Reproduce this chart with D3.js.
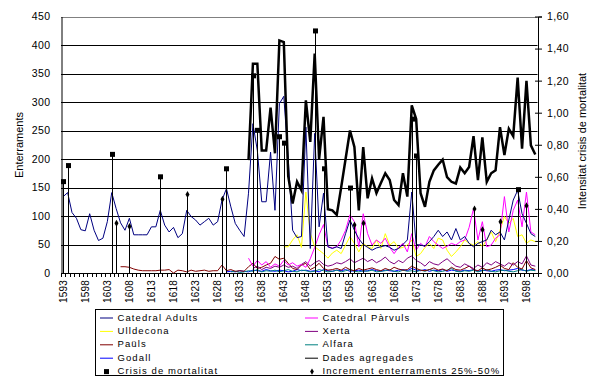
<!DOCTYPE html>
<html>
<head>
<meta charset="utf-8">
<script src="https://cdn.jsdelivr.net/npm/d3@7"></script>
<style>
  body { margin: 0; background: #fff; }
  svg { display: block; font-family: "Liberation Sans", Arial, sans-serif; }
</style>
</head>
<body>
<svg id="chart" width="603" height="384"></svg>
<script>
//////////////////
// Data         //
//////////////////
const firstYear = 1593, lastYear = 1700;
const years = d3.range(firstYear, lastYear + 1);
const labelYears = d3.range(1593, 1701, 5);

const leftTicks = [0, 50, 100, 150, 200, 250, 300, 350, 400, 450];
const rightTicks = [0, 0.2, 0.4, 0.6, 0.8, 1.0, 1.2, 1.4, 1.6];

const catedralAdults = [
  134, 141, 106, 96, 76, 74, 104, 75, 57, 61,
  90, 141, 113, 88, 75, 96, 67, 67, 67, 67,
  81, 81, 110, 84, 72, 80, 62, 69, 110, 99,
  93, 84, 90, 96, 84, 90, 128, 148, 116, 87,
  75, 64, 140, 262, 215, 125, 125, 212, 110, 297,
  310, 200, 75, 62, 64, 256, 43, 245, 81, 140,
  46, 43, 46, 43, 69, 93, 75, 60, 50, 45,
  40, 44, 46, 48, 45, 40, 43, 50, 58, 142,
  50, 49, 47, 55, 64, 75, 64, 72, 58, 78,
  58, 64, 52, 46, 52, 55, 58, 75, 67, 72,
  58, 93, 128, 145, 104, 87, 69, 64
];
const catedralParvuls = [
  null, null, null, null, null, null, null, null, null, null,
  null, null, null, null, null, null, null, null, null, null,
  null, null, null, null, null, null, null, null, null, null,
  null, null, null, null, null, null, null, null, null, null,
  null, null, 26, 12, 22, 14, 20, 10, 16, 12,
  22, 14, 18, 12, 15, 10, 25, 45, 67, 85,
  46, 44, 46, 58, 75, 102, 90, 46, 104, 69,
  49, 58, 52, 61, 45, 34, 45, 52, 37, 69,
  40, 52, 46, 64, 55, 49, 43, 47, 52, 49,
  55, 58, 80, 113, 58, 90, 46, 49, 61, 67,
  134, 72, 110, 128, 81, 142, 72, 67
];
const ulldecona = [
  null, null, null, null, null, null, null, null, null, null,
  null, null, null, null, null, null, null, null, null, null,
  null, null, null, null, null, null, null, null, null, null,
  null, null, null, null, null, null, null, null, null, null,
  null, null, null, null, null, null, null, null, null, null,
  46, 46, 58, 67, 45, 142, 70, 46, 40, 34,
  26, 35, 40, 34, 49, 64, 52, 37, 52, 46,
  43, 58, 43, 69, 49, 55, 43, 45, 49, 58,
  29, 34, 45, 52, 43, 61, 58, 40, 29, 37,
  46, 58, 52, 49, 55, 46, 58, 72, 55, 75,
  99, 87, 96, 64, 67, 52, 58, 55
];
const xerta = [
  null, null, null, null, null, null, null, null, null, null,
  null, null, null, null, null, null, null, null, null, null,
  null, null, null, null, null, null, null, null, null, null,
  null, null, null, null, null, null, null, null, null, null,
  null, null, null, 8, 12, 6, 10, 8, 12, 10,
  14, 10, 12, 8, 15, 20, 12, 18, 22, 15,
  12, 14, 18, 16, 20, 25, 18, 22, 26, 20,
  24, 18, 22, 28, 20, 16, 22, 18, 26, 30,
  22, 18, 12, 20, 16, 14, 20, 25, 18, 12,
  10, 16, 12, 8, 14, 10, 18, 14, 20, 16,
  12, 18, 14, 20, 16, 30, 14, 12
];
const pauls = [
  null, null, null, null, null, null, null, null, null, null,
  null, null, null, 11, 11, 10, 7, 5, 4, 4,
  4, 4, 5, 5, 6, 0, 5, 4, 2, 5,
  3, 4, 5, 3, 4, 4, 14, 4, 6, 3,
  4, 3, 11, 17, 8, 10, 14, 17, 29, 24,
  26, 17, 8, 6, 14, 17, 6, 10, 17, 8,
  5, 6, 8, 5, 10, 6, 4, 8, 5, 7,
  9, 6, 4, 8, 5, 10, 7, 5, 6, 12,
  8, 5, 4, 6, 9, 5, 7, 4, 10, 6,
  5, 8, 12, 6, 4, 9, 5, 7, 10, 14,
  8, 6, 18, 10, 7, 22, 9, 6
];
const alfara = [
  null, null, null, null, null, null, null, null, null, null,
  null, null, null, null, null, null, null, null, null, null,
  null, null, null, null, null, null, null, null, null, null,
  null, null, null, null, null, null, null, null, 2, 3,
  1, 2, 4, 3, 6, 2, 4, 3, 5, 2,
  4, 6, 3, 2, 5, 4, 2, 3, 6, 4,
  2, 3, 5, 2, 4, 6, 3, 2, 4, 3,
  5, 2, 3, 4, 6, 3, 2, 5, 3, 4,
  2, 5, 3, 6, 4, 2, 3, 5, 8, 3,
  2, 4, 3, 5, 2, 4, 6, 3, 2, 4,
  5, 3, 2, 4, 6, 3, 5, 4
];
const godall = [
  null, null, null, null, null, null, null, null, null, null,
  null, null, null, null, null, null, null, null, null, null,
  null, null, null, null, null, null, null, null, null, null,
  null, null, null, null, null, null, null, 2, 3, 2,
  4, 3, 2, 5, 4, 3, 6, 4, 3, 5,
  4, 2, 3, 6, 4, 5, 3, 4, 2, 6,
  4, 3, 5, 4, 6, 3, 4, 5, 3, 4,
  6, 4, 3, 5, 4, 3, 5, 6, 4, 8,
  5, 4, 6, 3, 5, 4, 6, 3, 5, 4,
  3, 5, 4, 6, 3, 5, 4, 3, 5, 6,
  4, 5, 6, 8, 5, 4, 6, 5
];
const dadesAgregades = [
  null, null, null, null, null, null, null, null, null, null,
  null, null, null, null, null, null, null, null, null, null,
  null, null, null, null, null, null, null, null, null, null,
  null, null, null, null, null, null, null, null, null, null,
  null, null, 198, 367, 367, 215, 215, 290, 210, 408,
  405, 170, 122, 160, 145, 303, 230, 385, 200, 274,
  112, 110, 102, 150, 200, 250, 221, 110, 221, 131,
  166, 140, 158, 175, 163, 128, 119, 175, 134, 294,
  270, 140, 116, 160, 180, 190, 199, 168, 160, 157,
  185, 175, 186, 240, 163, 238, 160, 175, 180, 256,
  207, 253, 240, 343, 218, 337, 224, 208
];

// crisis markers, read on the right axis
const crisisYears = [1593, 1594, 1604, 1615, 1630, 1636, 1637, 1642, 1643, 1650, 1652, 1658, 1672, 1673, 1696];
const crisisValues = [0.57, 0.67, 0.74, 0.60, 0.65, 1.23, 0.89, 0.85, 0.81, 1.51, 0.65, 0.53, 0.96, 0.73, 0.52];
const incrementYears = [1605, 1608, 1621, 1629, 1659, 1661, 1686, 1688, 1692, 1698];
const incrementValues = [0.31, 0.29, 0.49, 0.46, 0.30, 0.31, 0.40, 0.27, 0.32, 0.42];

const seriesNames = ["Catedral Adults", "Catedral Pàrvuls", "Ulldecona", "Xerta", "Paüls", "Alfara", "Godall", "Dades agregades"];
const seriesData = [catedralAdults, catedralParvuls, ulldecona, xerta, pauls, alfara, godall, dadesAgregades];
const seriesColors = ["#000080", "#ff00ff", "#ffff00", "#800080", "#800000", "#008080", "#0000ff", "#000000"];

//////////////////////////
// Chart specifications //
//////////////////////////
const plot = { left: 61, right: 537.5, top: 16.5, bottom: 273 };

const svg = d3.select("#chart");

const x = d3.scaleBand().domain(years).range([plot.left, plot.right]).padding(0);
const xEdge = d3.scaleLinear().domain([0, years.length]).range([plot.left, plot.right]);
const cx = (yr) => x(yr) + x.bandwidth() / 2;

const y = d3.scaleLinear().domain([0, 450]).range([plot.bottom, plot.top]);
const y2 = d3.scaleLinear().domain([0, 1.6]).range([plot.bottom, plot.top]);

// gridlines
svg.append("g")
  .selectAll("line")
  .data(leftTicks.filter((d) => d > 0))
  .join("line")
  .attr("x1", plot.left)
  .attr("x2", plot.right)
  .attr("y1", (d) => Math.round(y(d)) + 0.5)
  .attr("y2", (d) => Math.round(y(d)) + 0.5)
  .attr("stroke", (d) => (d === 450 ? "#808080" : "#000"))
  .attr("stroke-width", 1);

// left axis
const yAxis = (g) =>
  g
    .attr("transform", `translate(${plot.left + 0.5},0)`)
    .call(d3.axisLeft(y).tickValues(leftTicks).tickSize(0).tickPadding(11))
    .call((g) => g.select(".domain").attr("stroke", "#000"))
    .call((g) =>
      g.selectAll("text").attr("font-size", 10.5).attr("fill", "#000").attr("letter-spacing", 0.4)
    );
svg.append("g").call(yAxis);

// right axis
const y2Axis = (g) =>
  g
    .attr("transform", `translate(${plot.right + 0.5},0)`)
    .call(
      d3.axisRight(y2).tickValues(rightTicks).tickSize(4).tickPadding(5)
        .tickFormat((d) => d3.format(".2f")(d).replace(".", ","))
    )
    .call((g) => g.select(".domain").attr("stroke", "#000"))
    .call((g) => g.selectAll(".tick line").attr("x1", -3).attr("stroke", "#000"))
    .call((g) =>
      g.selectAll("text").attr("font-size", 10.5).attr("fill", "#000").attr("letter-spacing", 0.4)
    );
svg.append("g").call(y2Axis);

// x axis: ticks at category boundaries, labels every 5 years
svg.append("line")
  .attr("x1", plot.left).attr("x2", plot.right + 1)
  .attr("y1", plot.bottom + 0.5).attr("y2", plot.bottom + 0.5)
  .attr("stroke", "#000");
svg.append("g")
  .selectAll("line")
  .data(d3.range(0, years.length + 1))
  .join("line")
  .attr("x1", (d) => Math.round(xEdge(d)) + 0.5)
  .attr("x2", (d) => Math.round(xEdge(d)) + 0.5)
  .attr("y1", plot.bottom)
  .attr("y2", plot.bottom + 4)
  .attr("stroke", "#000");

const xAxis = (g) =>
  g
    .attr("transform", `translate(0,${plot.bottom})`)
    .call(d3.axisBottom(x).tickValues(labelYears).tickSize(0).tickPadding(0))
    .call((g) => g.select(".domain").remove())
    .call((g) =>
      g.selectAll("text")
        .attr("font-size", 10)
        .attr("fill", "#000")
        .attr("letter-spacing", 0.2)
        .attr("text-anchor", "end")
        .attr("transform", "translate(0,7) rotate(-90)")
        .attr("x", 0)
        .attr("y", 0)
        .attr("dy", "0.35em")
    );
svg.append("g").call(xAxis);

// axis titles
svg.append("text")
  .attr("transform", `translate(23,145) rotate(-90)`)
  .attr("text-anchor", "middle")
  .attr("font-size", 11)
  .text("Enterraments");
svg.append("text")
  .attr("transform", `translate(586,141) rotate(-90)`)
  .attr("text-anchor", "middle")
  .attr("font-size", 11)
  .text("Intensitat crisis de mortalitat");

//////////////////////////
// Lines                //
//////////////////////////
const line = d3.line()
  .defined((d) => d[1] != null)
  .x((d) => cx(d[0]))
  .y((d) => y(d[1]));

// draw the thin series first, then the aggregate on top
const drawOrder = [6, 5, 4, 3, 2, 1, 0];
drawOrder.forEach((i) => {
  svg.append("path")
    .datum(years.map((yr, k) => [yr, seriesData[i][k]]))
    .attr("fill", "none")
    .attr("stroke", seriesColors[i])
    .attr("stroke-width", 1)
    .attr("d", line);
});

// drop lines + markers
const dropLines = svg.append("g");
crisisYears.forEach((yr, k) => {
  dropLines.append("line")
    .attr("x1", Math.round(cx(yr)) + 0.5).attr("x2", Math.round(cx(yr)) + 0.5)
    .attr("y1", y2(crisisValues[k])).attr("y2", y2(0))
    .attr("stroke", "#000").attr("stroke-width", 1);
});
incrementYears.forEach((yr, k) => {
  dropLines.append("line")
    .attr("x1", Math.round(cx(yr)) + 0.5).attr("x2", Math.round(cx(yr)) + 0.5)
    .attr("y1", y2(incrementValues[k])).attr("y2", y2(0))
    .attr("stroke", "#000").attr("stroke-width", 1);
});

svg.append("path")
  .datum(years.map((yr, k) => [yr, dadesAgregades[k]]))
  .attr("fill", "none")
  .attr("stroke", "#000")
  .attr("stroke-width", 2.5)
  .attr("stroke-linejoin", "miter")
  .attr("d", line);

svg.append("g")
  .selectAll("rect")
  .data(crisisYears)
  .join("rect")
  .attr("x", (d) => Math.round(cx(d)) - 2)
  .attr("y", (d, k) => y2(crisisValues[k]) - 2.5)
  .attr("width", 5)
  .attr("height", 5)
  .attr("fill", "#000");

svg.append("g")
  .selectAll("path")
  .data(incrementYears)
  .join("path")
  .attr("transform", (d, k) => `translate(${Math.round(cx(d)) + 0.5},${y2(incrementValues[k])})`)
  .attr("d", d3.symbol(d3.symbolDiamond, 14))
  .attr("fill", "#000");

//////////////////////////
// Legend               //
//////////////////////////
const legend = svg.append("g").attr("font-size", 9.5).attr("letter-spacing", 1.1);
legend.append("rect")
  .attr("x", 95.5).attr("y", 309.5).attr("width", 408).attr("height", 66)
  .attr("fill", "#fff").attr("stroke", "#000");

const legendItems = seriesNames.map((name, i) => ({ name, color: seriesColors[i], type: "line" }));
legendItems.push({ name: "Crisis de mortalitat", type: "square" });
legendItems.push({ name: "Increment enterraments 25%-50%", type: "diamond" });

legendItems.forEach((d, i) => {
  const colX = i % 2 === 0 ? 100 : 305;
  const rowY = 317.5 + Math.floor(i / 2) * 13.4;
  const g = legend.append("g").attr("transform", `translate(${colX},${rowY})`);
  if (d.type === "line") {
    g.append("line").attr("x1", 0).attr("x2", 13).attr("y1", 0.5).attr("y2", 0.5)
      .attr("stroke", d.color).attr("stroke-width", 1);
  } else if (d.type === "square") {
    g.append("rect").attr("x", 4).attr("y", -2).attr("width", 5).attr("height", 5).attr("fill", "#000");
  } else {
    g.append("path").attr("transform", "translate(7,0.5)")
      .attr("d", d3.symbol(d3.symbolDiamond, 12)).attr("fill", "#000");
  }
  g.append("text").attr("x", 17.5).attr("y", 0).attr("dy", "0.33em").text(d.name);
});
</script>
</body>
</html>
